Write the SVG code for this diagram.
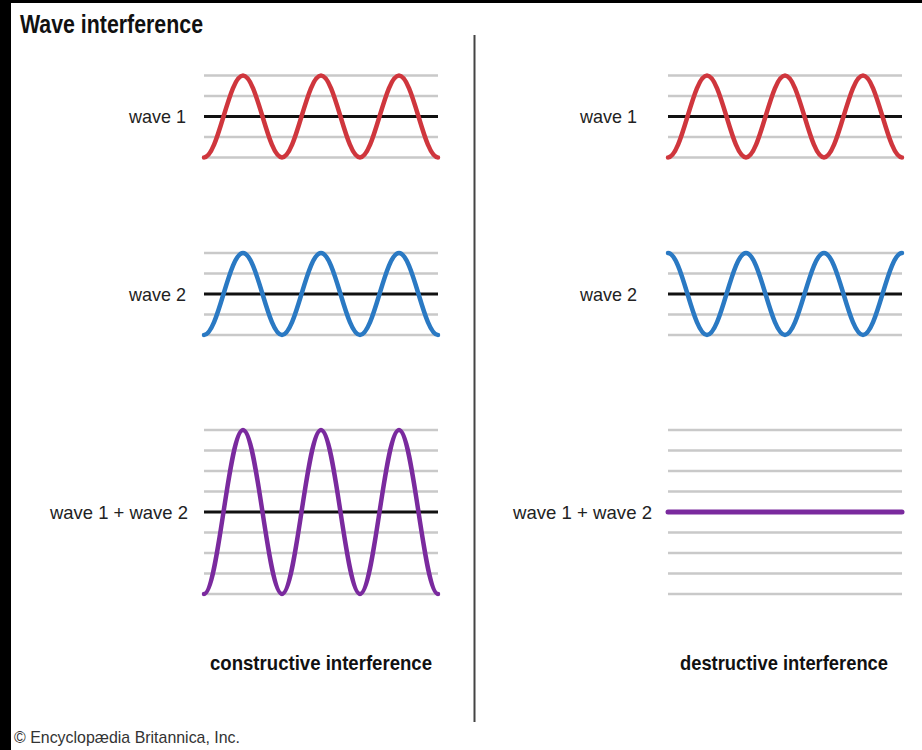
<svg xmlns="http://www.w3.org/2000/svg" width="922" height="750" viewBox="0 0 922 750">
<defs>
<style>
.bg{fill:#ffffff}
.frame{fill:#000000}
.grid{stroke:#c9c9c9;stroke-width:2.5;fill:none}
.axis{stroke:#111111;stroke-width:3;fill:none}
.wave{fill:none;stroke-width:4.5;stroke-linecap:round;stroke-linejoin:round}
.red{stroke:#cf363d}
.blue{stroke:#2a79c3}
.purple{stroke:#7a2a9e}
.lbl{font-family:"Liberation Sans",Arial,sans-serif;font-size:19px;fill:#222222}
.ttl{font-family:"Liberation Sans",Arial,sans-serif;font-size:25px;font-weight:bold;fill:#111111}
.cap{font-family:"Liberation Sans",Arial,sans-serif;font-size:21px;font-weight:bold;fill:#111111}
.copy{font-family:"Liberation Sans",Arial,sans-serif;font-size:17px;fill:#333333}
.divider{stroke:#444444;stroke-width:2}
</style>
<g id="grid5">
<line class="grid" x1="0" y1="-41" x2="234" y2="-41"/>
<line class="grid" x1="0" y1="-20.5" x2="234" y2="-20.5"/>
<line class="grid" x1="0" y1="20.5" x2="234" y2="20.5"/>
<line class="grid" x1="0" y1="41" x2="234" y2="41"/>
</g>
<g id="grid9">
<line class="grid" x1="0" y1="-82" x2="234" y2="-82"/>
<line class="grid" x1="0" y1="-61.5" x2="234" y2="-61.5"/>
<line class="grid" x1="0" y1="-41" x2="234" y2="-41"/>
<line class="grid" x1="0" y1="-20.5" x2="234" y2="-20.5"/>
<line class="grid" x1="0" y1="20.5" x2="234" y2="20.5"/>
<line class="grid" x1="0" y1="41" x2="234" y2="41"/>
<line class="grid" x1="0" y1="61.5" x2="234" y2="61.5"/>
<line class="grid" x1="0" y1="82" x2="234" y2="82"/>
</g>
</defs>
<rect class="bg" x="0" y="0" width="922" height="750"/>
<rect class="frame" x="0" y="0" width="11" height="750"/>
<rect class="frame" x="0" y="0" width="922" height="3"/>

<text id="title" class="ttl" x="20" y="33" textLength="183" lengthAdjust="spacingAndGlyphs">Wave interference</text>

<g id="connectors">
<line class="divider" x1="474.5" y1="35" x2="474.5" y2="722"/>
</g>

<g id="c-wave1">
<use href="#grid5" x="204" y="116.5"/>
<line class="axis" x1="204" y1="116.5" x2="438" y2="116.5"/>
<path class="wave red" d="M204,157.5 C218.17,157.5 228.83,75.5 243,75.5 S267.83,157.5 282,157.5 S306.83,75.5 321,75.5 S345.83,157.5 360,157.5 S384.83,75.5 399,75.5 S423.83,157.5 438,157.5"/>
<text class="lbl" x="186" y="123" text-anchor="end" textLength="57" lengthAdjust="spacingAndGlyphs">wave 1</text>
</g>

<g id="c-wave2">
<use href="#grid5" x="204" y="294"/>
<line class="axis" x1="204" y1="294" x2="438" y2="294"/>
<path class="wave blue" d="M204,335 C218.17,335 228.83,253 243,253 S267.83,335 282,335 S306.83,253 321,253 S345.83,335 360,335 S384.83,253 399,253 S423.83,335 438,335"/>
<text class="lbl" x="186" y="300.5" text-anchor="end" textLength="57" lengthAdjust="spacingAndGlyphs">wave 2</text>
</g>

<g id="c-sum">
<use href="#grid9" x="204" y="512"/>
<line class="axis" x1="204" y1="512" x2="438" y2="512"/>
<path class="wave purple" d="M204,594 C218.17,594 228.83,430 243,430 S267.83,594 282,594 S306.83,430 321,430 S345.83,594 360,594 S384.83,430 399,430 S423.83,594 438,594"/>
<text class="lbl" x="188" y="518.5" text-anchor="end" textLength="138" lengthAdjust="spacingAndGlyphs">wave 1 + wave 2</text>
</g>

<text id="c-caption" class="cap" x="210" y="670" textLength="222" lengthAdjust="spacingAndGlyphs">constructive interference</text>

<g id="d-wave1">
<use href="#grid5" x="668" y="116.5"/>
<line class="axis" x1="668" y1="116.5" x2="902" y2="116.5"/>
<path class="wave red" d="M668,157.5 C682.17,157.5 692.83,75.5 707,75.5 S731.83,157.5 746,157.5 S770.83,75.5 785,75.5 S809.83,157.5 824,157.5 S848.83,75.5 863,75.5 S887.83,157.5 902,157.5"/>
<text class="lbl" x="637" y="123" text-anchor="end" textLength="57" lengthAdjust="spacingAndGlyphs">wave 1</text>
</g>

<g id="d-wave2">
<use href="#grid5" x="668" y="294"/>
<line class="axis" x1="668" y1="294" x2="902" y2="294"/>
<path class="wave blue" d="M668,253 C682.17,253 692.83,335 707,335 S731.83,253 746,253 S770.83,335 785,335 S809.83,253 824,253 S848.83,335 863,335 S887.83,253 902,253"/>
<text class="lbl" x="637" y="300.5" text-anchor="end" textLength="57" lengthAdjust="spacingAndGlyphs">wave 2</text>
</g>

<g id="d-sum">
<use href="#grid9" x="668" y="512"/>
<line class="wave purple" x1="668" y1="512" x2="902" y2="512" style="stroke-width:5"/>
<text class="lbl" x="652" y="518.5" text-anchor="end" textLength="139" lengthAdjust="spacingAndGlyphs">wave 1 + wave 2</text>
</g>

<text id="d-caption" class="cap" x="680" y="670" textLength="208" lengthAdjust="spacingAndGlyphs">destructive interference</text>

<text id="credit" class="copy" x="14" y="743" textLength="226" lengthAdjust="spacingAndGlyphs">© Encyclopædia Britannica, Inc.</text>
</svg>
